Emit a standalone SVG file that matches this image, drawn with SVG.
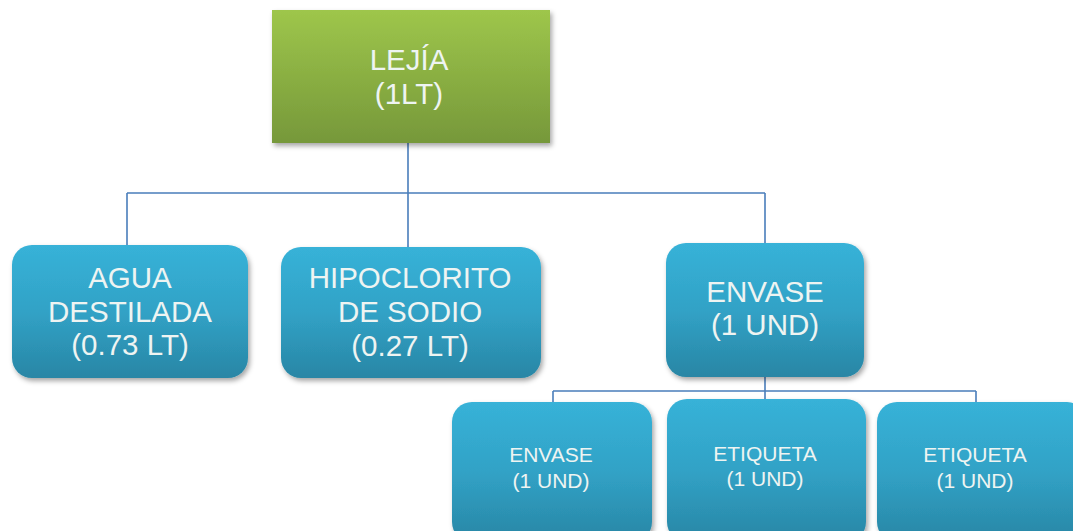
<svg xmlns="http://www.w3.org/2000/svg" width="1073" height="531" viewBox="0 0 1073 531">
  <defs>
    <linearGradient id="gGreen" x1="0" y1="0" x2="0" y2="1">
      <stop offset="0" stop-color="#9ec64b"/>
      <stop offset="1" stop-color="#76983a"/>
    </linearGradient>
    <linearGradient id="gBlue" x1="0" y1="0" x2="0" y2="1">
      <stop offset="0" stop-color="#37b2d8"/>
      <stop offset="0.5" stop-color="#31a2c6"/>
      <stop offset="1" stop-color="#2986a5"/>
    </linearGradient>
    <filter id="shadow" x="-10%" y="-10%" width="125%" height="130%">
      <feDropShadow dx="2" dy="3" stdDeviation="2.5" flood-color="#000" flood-opacity="0.35"/>
    </filter>
  </defs>
  <style>
    .conn { fill: none; stroke: #4a7ebb; stroke-width: 1.6; }
    .top { fill: url(#gGreen); filter: url(#shadow); }
    .box { fill: url(#gBlue); filter: url(#shadow); }
    .lbl { font-family: "Liberation Sans", Arial, sans-serif; fill: #eef4f2; text-anchor: middle; }
    .big { font-size: 29.5px; }
    .small { font-size: 21px; }
  </style>

  <g id="connectors">
    <path class="conn" d="M408 143 V193 M127 193 H765 M127 193 V246 M408 193 V248 M765 193 V244" stroke-width="2"/>
    <path class="conn" d="M765 377 V391 M553 391 H976 M553 391 V402 M765 391 V399 M976 391 V402" stroke-width="1.4"/>
  </g>

  <g id="lejia">
    <rect class="top" x="272" y="10" width="278" height="133"/>
    <text class="lbl big" x="409" y="70">LEJÍA</text>
    <text class="lbl big" x="409" y="104">(1LT)</text>
  </g>

  <g id="agua">
    <rect class="box" x="12" y="245" width="236" height="133" rx="20"/>
    <text class="lbl big" x="130" y="288">AGUA</text>
    <text class="lbl big" x="130" y="322">DESTILADA</text>
    <text class="lbl big" x="130" y="355">(0.73 LT)</text>
  </g>

  <g id="hipoclorito">
    <rect class="box" x="281" y="247" width="260" height="131" rx="20"/>
    <text class="lbl big" x="410" y="288">HIPOCLORITO</text>
    <text class="lbl big" x="410" y="322">DE SODIO</text>
    <text class="lbl big" x="410" y="356">(0.27 LT)</text>
  </g>

  <g id="envase">
    <rect class="box" x="666" y="243" width="198" height="134" rx="20"/>
    <text class="lbl big" x="765" y="302">ENVASE</text>
    <text class="lbl big" x="765" y="335">(1 UND)</text>
  </g>

  <g id="envase-und">
    <rect class="box" x="452" y="402" width="200" height="140" rx="20"/>
    <text class="lbl small" x="551" y="462">ENVASE</text>
    <text class="lbl small" x="551" y="488">(1 UND)</text>
  </g>

  <g id="etiqueta-1">
    <rect class="box" x="667" y="399" width="199" height="143" rx="20"/>
    <text class="lbl small" x="765" y="461">ETIQUETA</text>
    <text class="lbl small" x="765" y="486">(1 UND)</text>
  </g>

  <g id="etiqueta-2">
    <rect class="box" x="877" y="402" width="210" height="140" rx="20"/>
    <text class="lbl small" x="975" y="462">ETIQUETA</text>
    <text class="lbl small" x="975" y="488">(1 UND)</text>
  </g>
</svg>
